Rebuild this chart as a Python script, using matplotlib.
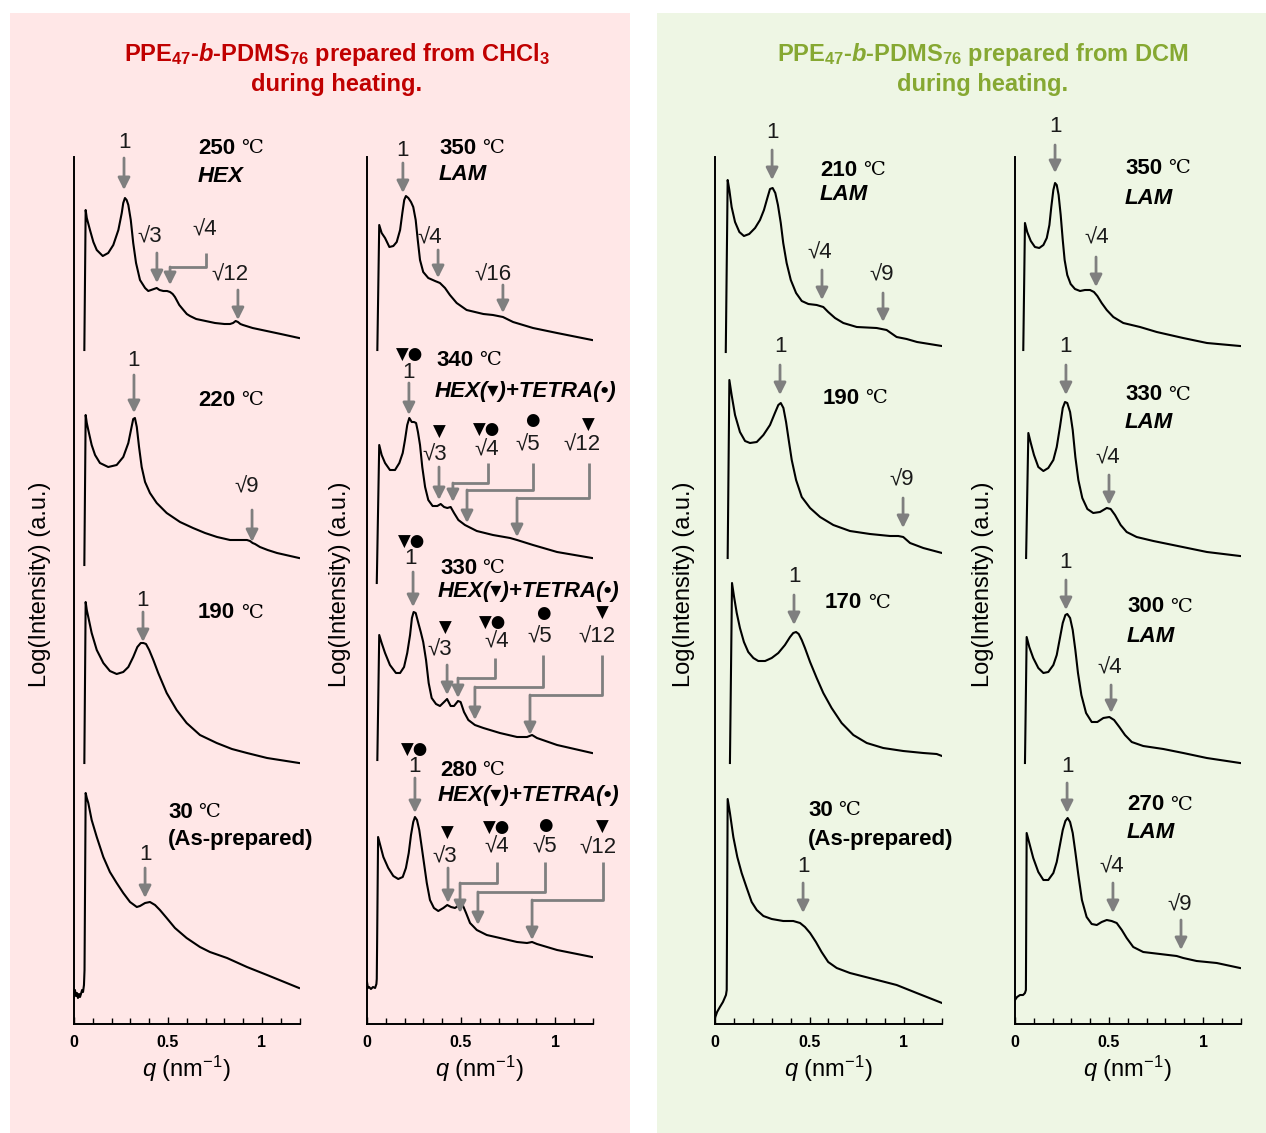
import matplotlib
matplotlib.use("Agg")
import matplotlib.pyplot as plt
from matplotlib.patches import Rectangle
from matplotlib.ticker import MultipleLocator

# ---------------- data (q in nm^-1, log-intensity in arbitrary units, offset stacked) -------------
# CHCl3, left column
q_c1_250 = [0.055, 0.062, 0.068, 0.085, 0.103, 0.121, 0.153, 0.182, 0.209, 0.236, 0.254, 0.262, 0.271,
            0.280, 0.289, 0.302, 0.315, 0.330, 0.351, 0.378, 0.395, 0.410, 0.425, 0.440, 0.455, 0.475,
            0.495, 0.511, 0.525, 0.537, 0.560, 0.582, 0.600, 0.617, 0.650, 0.700, 0.750, 0.800, 0.830,
            0.846, 0.860, 0.872, 0.885, 0.899, 0.950, 1.000, 1.100, 1.197]
i_c1_250 = [674, 814, 806, 794, 782, 774, 768, 771, 779, 794, 811, 821, 826,
            824, 819, 804, 781, 761, 744, 736, 733, 734, 735, 736, 734, 733,
            733, 732, 730, 727, 719, 714, 710, 708, 705, 703, 701, 700, 700,
            701, 703, 702, 700, 699, 696, 694, 690, 686]
q_c1_220 = [0.055, 0.062, 0.068, 0.076, 0.094, 0.112, 0.138, 0.182, 0.227, 0.262, 0.289, 0.303, 0.315,
            0.324, 0.334, 0.346, 0.360, 0.378, 0.404, 0.440, 0.493, 0.564, 0.633, 0.697, 0.761, 0.830,
            0.883, 0.920, 0.936, 0.950, 0.963, 0.989, 1.030, 1.080, 1.197]
i_c1_220 = [459, 609, 601, 594, 579, 569, 561, 557, 559, 567, 581, 594, 605,
            606, 597, 577, 557, 542, 531, 521, 511, 502, 496, 491, 487, 484,
            484, 484, 483, 481, 480, 477, 474, 471, 466]
q_c1_190 = [0.055, 0.062, 0.068, 0.076, 0.094, 0.121, 0.156, 0.191, 0.227, 0.262, 0.289, 0.315, 0.337,
            0.355, 0.369, 0.383, 0.400, 0.422, 0.448, 0.493, 0.546, 0.599, 0.670, 0.759, 0.840, 0.920,
            1.027, 1.197]
i_c1_190 = [261, 422, 414, 407, 391, 374, 361, 353, 350, 352, 357, 367, 377,
            381, 381, 380, 374, 364, 351, 331, 314, 301, 289, 281, 275, 271,
            266, 261]
q_c1_030 = [0.000, 0.005, 0.011, 0.016, 0.021, 0.027, 0.032, 0.037, 0.043, 0.048, 0.053, 0.056, 0.062,
            0.068, 0.076, 0.094, 0.121, 0.156, 0.191, 0.227, 0.262, 0.298, 0.334, 0.351, 0.378, 0.404,
            0.431, 0.457, 0.493, 0.537, 0.599, 0.670, 0.723, 0.814, 0.920, 1.027, 1.197]
i_c1_030 = [27, 34, 28, 31, 26, 30, 27, 30, 34, 32, 39, 54, 231,
            226, 221, 204, 187, 167, 152, 141, 131, 122, 117, 118, 121, 122,
            119, 114, 106, 96, 86, 77, 72, 66, 57, 49, 36]

# CHCl3, right column
q_c2_350 = [0.055, 0.065, 0.078, 0.096, 0.119, 0.140, 0.158, 0.176, 0.188, 0.198, 0.207, 0.220, 0.234,
            0.246, 0.259, 0.270, 0.282, 0.299, 0.326, 0.362, 0.388, 0.415, 0.441, 0.477, 0.530, 0.619,
            0.670, 0.723, 0.777, 0.883, 1.011, 1.197]
i_c2_350 = [674, 799, 791, 786, 777, 778, 782, 794, 811, 824, 828, 826, 822,
            817, 804, 784, 764, 752, 746, 743, 741, 736, 729, 721, 714, 710,
            709, 707, 702, 696, 691, 684]
q_c2_340 = [0.052, 0.065, 0.078, 0.096, 0.122, 0.149, 0.172, 0.190, 0.202, 0.214, 0.225, 0.238, 0.250,
            0.261, 0.271, 0.282, 0.294, 0.309, 0.326, 0.349, 0.374, 0.392, 0.410, 0.427, 0.445, 0.463,
            0.486, 0.521, 0.584, 0.670, 0.761, 0.798, 0.883, 1.011, 1.197]
i_c2_340 = [441, 579, 569, 561, 554, 554, 561, 571, 584, 599, 606, 602, 602,
            601, 592, 579, 557, 537, 524, 518, 518, 520, 517, 516, 517, 511,
            504, 499, 493, 489, 486, 484, 479, 472, 466]
q_c2_330 = [0.055, 0.065, 0.078, 0.096, 0.122, 0.154, 0.176, 0.197, 0.214, 0.229, 0.239, 0.248, 0.259,
            0.273, 0.286, 0.299, 0.314, 0.328, 0.344, 0.367, 0.388, 0.410, 0.426, 0.445, 0.463, 0.484,
            0.498, 0.516, 0.539, 0.574, 0.619, 0.707, 0.798, 0.851, 0.878, 0.904, 1.011, 1.197]
i_c2_330 = [264, 389, 381, 371, 359, 351, 351, 357, 371, 389, 406, 412, 411,
            401, 392, 382, 364, 341, 326, 320, 318, 322, 325, 318, 318, 323,
            322, 312, 304, 299, 296, 291, 287, 287, 289, 286, 279, 271]
q_c2_280 = [0.000, 0.005, 0.011, 0.021, 0.032, 0.043, 0.050, 0.052, 0.059, 0.073, 0.087, 0.113, 0.140,
            0.166, 0.190, 0.207, 0.222, 0.234, 0.246, 0.255, 0.266, 0.278, 0.291, 0.303, 0.318, 0.335,
            0.356, 0.379, 0.406, 0.427, 0.447, 0.468, 0.491, 0.509, 0.527, 0.548, 0.584, 0.637, 0.707,
            0.798, 0.851, 0.878, 0.904, 1.011, 1.197]
i_c2_280 = [42, 36, 37, 35, 37, 36, 40, 45, 187, 177, 167, 156, 148,
            145, 147, 156, 171, 189, 202, 207, 204, 194, 177, 161, 141, 124,
            116, 113, 116, 119, 117, 116, 119, 119, 111, 101, 94, 89, 86,
            82, 81, 82, 80, 74, 67]

# DCM, left column
q_d1_210 = [0.057, 0.067, 0.076, 0.088, 0.106, 0.129, 0.153, 0.181, 0.212, 0.238, 0.259, 0.277, 0.291,
            0.305, 0.319, 0.333, 0.348, 0.361, 0.379, 0.401, 0.429, 0.459, 0.494, 0.538, 0.573, 0.599,
            0.635, 0.679, 0.750, 0.855, 0.908, 0.961, 1.014, 1.069, 1.200]
i_d1_210 = [672, 844, 834, 817, 802, 792, 788, 790, 796, 804, 814, 826, 835,
            836, 831, 819, 801, 781, 761, 744, 731, 723, 720, 719, 717, 712,
            706, 701, 697, 696, 694, 687, 685, 682, 678]
q_d1_190 = [0.067, 0.076, 0.088, 0.106, 0.132, 0.159, 0.185, 0.221, 0.256, 0.291, 0.317, 0.335, 0.348,
            0.362, 0.376, 0.390, 0.406, 0.429, 0.459, 0.503, 0.556, 0.626, 0.714, 0.820, 0.926, 0.970,
            0.996, 1.032, 1.102, 1.201]
i_d1_190 = [466, 644, 629, 609, 592, 583, 581, 582, 589, 599, 611, 619, 621,
            616, 602, 584, 564, 544, 527, 516, 507, 499, 493, 490, 488, 488,
            487, 481, 476, 471]
q_d1_170 = [0.079, 0.090, 0.101, 0.115, 0.132, 0.153, 0.176, 0.203, 0.229, 0.265, 0.300, 0.335, 0.370,
            0.397, 0.414, 0.429, 0.443, 0.459, 0.476, 0.503, 0.538, 0.573, 0.617, 0.670, 0.732, 0.803,
            0.890, 0.996, 1.102, 1.173, 1.201]
i_d1_170 = [261, 441, 427, 411, 396, 382, 372, 366, 363, 363, 366, 371, 379,
            387, 391, 392, 390, 384, 376, 362, 346, 331, 316, 301, 289, 281,
            276, 273, 271, 270, 268]
q_d1_030 = [0.000, 0.011, 0.026, 0.042, 0.058, 0.062, 0.067, 0.079, 0.097, 0.118, 0.141, 0.168, 0.194,
            0.221, 0.256, 0.300, 0.361, 0.414, 0.450, 0.476, 0.503, 0.534, 0.564, 0.599, 0.644, 0.714,
            0.838, 0.961, 1.067, 1.201]
i_d1_030 = [6, 12, 17, 22, 29, 34, 225, 211, 187, 167, 151, 136, 122,
            114, 108, 105, 103, 103, 101, 97, 91, 82, 72, 62, 56, 51,
            45, 39, 31, 21]

# DCM, right column
q_d2_350 = [0.044, 0.053, 0.065, 0.084, 0.106, 0.129, 0.151, 0.169, 0.183, 0.193, 0.204, 0.213, 0.222,
            0.232, 0.243, 0.254, 0.264, 0.278, 0.296, 0.319, 0.346, 0.372, 0.399, 0.420, 0.438, 0.461,
            0.488, 0.523, 0.576, 0.665, 0.754, 0.894, 1.021, 1.197]
i_d2_350 = [674, 801, 792, 783, 777, 776, 779, 786, 799, 817, 834, 841, 839,
            829, 809, 784, 764, 749, 740, 735, 733, 734, 734, 732, 728, 721,
            714, 707, 701, 697, 692, 686, 681, 678]
q_d2_330 = [0.059, 0.071, 0.084, 0.101, 0.124, 0.151, 0.177, 0.204, 0.222, 0.239, 0.254, 0.266, 0.278,
            0.293, 0.307, 0.321, 0.337, 0.358, 0.385, 0.416, 0.452, 0.488, 0.509, 0.532, 0.562, 0.594,
            0.647, 0.736, 0.840, 1.021, 1.197]
i_d2_330 = [466, 591, 581, 569, 557, 553, 556, 564, 577, 597, 616, 622, 621,
            612, 594, 567, 544, 526, 515, 511, 512, 516, 515, 509, 499, 492,
            487, 483, 479, 472, 468]
q_d2_300 = [0.053, 0.062, 0.076, 0.097, 0.124, 0.151, 0.177, 0.204, 0.222, 0.239, 0.254, 0.268, 0.278,
            0.293, 0.307, 0.321, 0.335, 0.353, 0.378, 0.408, 0.438, 0.470, 0.502, 0.527, 0.555, 0.585,
            0.621, 0.682, 0.789, 0.895, 1.020, 1.197]
i_d2_300 = [261, 387, 377, 366, 356, 351, 352, 359, 369, 386, 401, 409, 410,
            406, 394, 374, 351, 329, 311, 302, 302, 306, 307, 304, 297, 289,
            282, 278, 275, 271, 266, 261]
q_d2_270 = [0.000, 0.011, 0.027, 0.043, 0.053, 0.058, 0.062, 0.076, 0.097, 0.124, 0.151, 0.177, 0.204,
            0.222, 0.239, 0.254, 0.268, 0.280, 0.293, 0.307, 0.321, 0.337, 0.356, 0.381, 0.408, 0.435,
            0.461, 0.488, 0.514, 0.541, 0.568, 0.594, 0.629, 0.682, 0.771, 0.860, 0.895, 0.966, 1.073,
            1.197]
i_d2_270 = [24, 27, 29, 29, 31, 34, 191, 181, 166, 152, 144, 144, 151,
            162, 179, 194, 203, 206, 202, 191, 172, 149, 124, 107, 100, 99,
            102, 104, 103, 101, 94, 86, 77, 72, 70, 68, 66, 63, 61,
            56]

x_ticks = [0, 0.5, 1]
x_tick_labels = ["0", "0.5", "1"]

# ---------------- figure ----------------
plt.rcParams['font.family'] = ['Liberation Sans', 'DejaVu Sans']
plt.rcParams['mathtext.fontset'] = 'custom'
plt.rcParams['mathtext.rm'] = 'Liberation Sans'
plt.rcParams['mathtext.it'] = 'Liberation Sans:italic'
plt.rcParams['mathtext.bf'] = 'Liberation Sans:bold'
plt.rcParams['mathtext.bfit'] = 'Liberation Sans:italic:bold'

W, H = 1266, 1133
fig = plt.figure(figsize=(W / 100, H / 100), dpi=100)
fig.patch.set_facecolor('white')

PINK = '#FFE7E7'
GREEN = '#EEF6E4'
GRAY = '#7F7F7F'
TXT = '#1A1A1A'

fig.patches.append(Rectangle((10 / W, 0), 620 / W, (H - 13) / H, transform=fig.transFigure,
                             facecolor=PINK, edgecolor='none', zorder=-10))
fig.patches.append(Rectangle((657 / W, 0), (W - 657) / W, (H - 13) / H, transform=fig.transFigure,
                             facecolor=GREEN, edgecolor='none', zorder=-10))

AX_BOTTOM, AX_TOP = 1024, 157


def make_axes(x0, s):
    ax = fig.add_axes([x0 / W, (H - AX_BOTTOM) / H, 1.2 * s / W, (AX_BOTTOM - AX_TOP) / H])
    ax.set_zorder(5)
    ax.set_xlim(0, 1.2)
    ax.set_ylim(0, AX_BOTTOM - AX_TOP)
    ax.patch.set_alpha(0)
    for sp in ['top', 'right']:
        ax.spines[sp].set_visible(False)
    for sp in ['left', 'bottom']:
        ax.spines[sp].set_linewidth(1.4)
    ax.set_yticks([])
    ax.set_xticks(x_ticks)
    ax.set_xticklabels(x_tick_labels, fontweight='bold')
    ax.xaxis.set_minor_locator(MultipleLocator(0.1))
    ax.tick_params(axis='x', which='major', direction='in', length=5, width=1.0, pad=8, labelsize=11.5)
    ax.tick_params(axis='x', which='minor', direction='in', length=4, width=1.0)
    ax.set_xlabel(r"$\mathit{q}$ (nm$^{-1}$)", fontsize=17, labelpad=3)
    return ax


ax1 = make_axes(74, 188)
ax2 = make_axes(367, 188)
ax3 = make_axes(715, 189)
ax4 = make_axes(1015, 188)

for ax, curves in [(ax1, [(q_c1_250, i_c1_250), (q_c1_220, i_c1_220), (q_c1_190, i_c1_190), (q_c1_030, i_c1_030)]),
                   (ax2, [(q_c2_350, i_c2_350), (q_c2_340, i_c2_340), (q_c2_330, i_c2_330), (q_c2_280, i_c2_280)]),
                   (ax3, [(q_d1_210, i_d1_210), (q_d1_190, i_d1_190), (q_d1_170, i_d1_170), (q_d1_030, i_d1_030)]),
                   (ax4, [(q_d2_350, i_d2_350), (q_d2_330, i_d2_330), (q_d2_300, i_d2_300), (q_d2_270, i_d2_270)])]:
    for q, i in curves:
        ax.plot(q, i, color='black', lw=1.5, solid_joinstyle='round')

# y labels
for xc in [40, 340, 684, 983]:
    fig.text(xc / W, 1 - 584 / H, "Log(Intensity) (a.u.)", rotation=90, ha='center', va='center',
             fontsize=17)

# titles
fig.text(337 / W, 1 - 55 / H,
         r"PPE$_{\mathbf{47}}$-$\mathbfit{b}$-PDMS$_{\mathbf{76}}$ prepared from CHCl$_{\mathbf{3}}$",
         ha='center', va='center', fontsize=17, fontweight='bold', color='#C00000')
fig.text(337 / W, 1 - 84 / H, "during heating.", ha='center', va='center', fontsize=17,
         fontweight='bold', color='#C00000')
fig.text(983 / W, 1 - 55 / H,
         r"PPE$_{\mathbf{47}}$-$\mathbfit{b}$-PDMS$_{\mathbf{76}}$ prepared from DCM",
         ha='center', va='center', fontsize=17, fontweight='bold', color='#86A832')
fig.text(983 / W, 1 - 84 / H, "during heating.", ha='center', va='center', fontsize=17,
         fontweight='bold', color='#86A832')


# ---------------- annotation helpers ----------------
def lbl(ax, x, y, s, size=16):
    ax.text(x, y, s, ha='center', va='center', fontsize=size, color=TXT, clip_on=False)


def sym(ax, x, y, s):
    ax.text(x, y, s, ha='center', va='center', fontsize=12, color='black', clip_on=False,
            family=['DejaVu Sans'])


def arr(ax, x, y0, y1):
    ax.annotate("", xy=(x, y1), xytext=(x, y0),
                arrowprops=dict(arrowstyle='-|>', color=GRAY, lw=2.0, mutation_scale=18,
                                shrinkA=0, shrinkB=0), annotation_clip=False)


def brk(ax, xt, yt, ym, xa, ye):
    ax.plot([xt, xt, xa], [yt, ym, ym], color=GRAY, lw=2.0, clip_on=False, solid_capstyle='butt')
    arr(ax, xa, ym, ye)


def temp(ax, x, y, num):
    t = ax.text(x, y, num, fontsize=16, fontweight='bold', ha='left', va='center', color='black')
    ax.annotate("\u2103", xy=(1, 0.5), xycoords=t, xytext=(4, 0), textcoords='offset points',
                ha='left', va='center', fontsize=14, family=['DejaVu Serif', 'Noto Sans CJK SC'])


def phase(ax, x, y, s, italic=True):
    ax.text(x, y, s, fontsize=16, fontweight='bold', fontstyle='italic' if italic else 'normal',
            ha='left', va='center', color='black')


HT = "HEX(\u25BE)+TETRA(\u2022)"

# Panel 1
temp(ax1, 0.660, 876, "250"); phase(ax1, 0.660, 847, "HEX")
lbl(ax1, 0.271, 882, "1"); arr(ax1, 0.266, 866, 834)
lbl(ax1, 0.404, 787, "√3"); arr(ax1, 0.441, 771, 741)
lbl(ax1, 0.697, 794, "√4"); brk(ax1, 0.702, 771, 757, 0.511, 739)
lbl(ax1, 0.830, 749, "√12"); arr(ax1, 0.872, 734, 704)
temp(ax1, 0.660, 624, "220")
lbl(ax1, 0.319, 664, "1"); arr(ax1, 0.319, 649, 611)
lbl(ax1, 0.920, 537, "√9"); arr(ax1, 0.947, 514, 482)
temp(ax1, 0.660, 411, "190")
lbl(ax1, 0.362, 424, "1"); arr(ax1, 0.367, 412, 382)
temp(ax1, 0.500, 212, "30"); phase(ax1, 0.500, 184, "(As-prepared)", italic=False)
lbl(ax1, 0.378, 169, "1"); arr(ax1, 0.378, 156, 126)

# Panel 2
temp(ax2, 0.383, 876, "350"); phase(ax2, 0.383, 849, "LAM")
lbl(ax2, 0.191, 874, "1"); arr(ax2, 0.191, 861, 831)
lbl(ax2, 0.335, 786, "√4"); arr(ax2, 0.378, 774, 746)
lbl(ax2, 0.670, 749, "√16"); arr(ax2, 0.723, 739, 711)

sym(ax2, 0.229, 669, "▼●"); lbl(ax2, 0.223, 652, "1"); arr(ax2, 0.223, 641, 609)
temp(ax2, 0.372, 664, "340"); phase(ax2, 0.362, 633, HT)
sym(ax2, 0.383, 592, "▼"); lbl(ax2, 0.362, 569, "√3"); arr(ax2, 0.383, 557, 524)
sym(ax2, 0.638, 594, "▼●"); lbl(ax2, 0.638, 574, "√4"); brk(ax2, 0.644, 561, 541, 0.457, 522)
sym(ax2, 0.878, 604, "●"); lbl(ax2, 0.856, 579, "√5"); brk(ax2, 0.883, 561, 534, 0.532, 501)
sym(ax2, 1.176, 599, "▼"); lbl(ax2, 1.144, 579, "√12"); brk(ax2, 1.181, 561, 526, 0.798, 487)

sym(ax2, 0.239, 482, "▼●"); lbl(ax2, 0.229, 465, "1"); arr(ax2, 0.245, 452, 417)
temp(ax2, 0.388, 456, "330"); phase(ax2, 0.378, 433, HT)
sym(ax2, 0.415, 396, "▼"); lbl(ax2, 0.388, 374, "√3"); arr(ax2, 0.426, 359, 329)
sym(ax2, 0.670, 401, "▼●"); lbl(ax2, 0.691, 382, "√4"); brk(ax2, 0.681, 366, 346, 0.484, 326)
sym(ax2, 0.936, 411, "●"); lbl(ax2, 0.920, 387, "√5"); brk(ax2, 0.936, 369, 337, 0.574, 304)
sym(ax2, 1.250, 411, "▼"); lbl(ax2, 1.223, 387, "√12"); brk(ax2, 1.250, 369, 329, 0.867, 289)

sym(ax2, 0.255, 274, "▼●"); lbl(ax2, 0.255, 257, "1"); arr(ax2, 0.255, 246, 211)
temp(ax2, 0.388, 254, "280"); phase(ax2, 0.378, 229, HT)
sym(ax2, 0.426, 191, "▼"); lbl(ax2, 0.415, 167, "√3"); arr(ax2, 0.431, 156, 121)
sym(ax2, 0.691, 196, "▼●"); lbl(ax2, 0.691, 177, "√4"); brk(ax2, 0.691, 162, 141, 0.495, 111)
sym(ax2, 0.947, 199, "●"); lbl(ax2, 0.947, 177, "√5"); brk(ax2, 0.947, 162, 132, 0.590, 99)
sym(ax2, 1.250, 197, "▼"); lbl(ax2, 1.229, 176, "√12"); brk(ax2, 1.255, 162, 124, 0.878, 84)

# Panel 3
temp(ax3, 0.556, 854, "210"); phase(ax3, 0.556, 829, "LAM")
lbl(ax3, 0.302, 891, "1"); arr(ax3, 0.302, 874, 844)
lbl(ax3, 0.556, 771, "√4"); arr(ax3, 0.566, 754, 724)
lbl(ax3, 0.884, 749, "√9"); arr(ax3, 0.889, 731, 702)
temp(ax3, 0.571, 626, "190")
lbl(ax3, 0.344, 677, "1"); arr(ax3, 0.344, 659, 629)
lbl(ax3, 0.989, 544, "√9"); arr(ax3, 0.995, 526, 496)
temp(ax3, 0.582, 421, "170")
lbl(ax3, 0.418, 447, "1"); arr(ax3, 0.418, 429, 399)
temp(ax3, 0.492, 214, "30"); phase(ax3, 0.492, 184, "(As-prepared)", italic=False)
lbl(ax3, 0.466, 157, "1"); arr(ax3, 0.466, 141, 111)

# Panel 4
temp(ax4, 0.585, 856, "350"); phase(ax4, 0.585, 826, "LAM")
lbl(ax4, 0.213, 897, "1"); arr(ax4, 0.213, 879, 851)
lbl(ax4, 0.436, 786, "√4"); arr(ax4, 0.431, 767, 737)
temp(ax4, 0.585, 629, "330"); phase(ax4, 0.585, 601, "LAM")
lbl(ax4, 0.271, 677, "1"); arr(ax4, 0.271, 659, 629)
lbl(ax4, 0.495, 566, "√4"); arr(ax4, 0.500, 549, 519)
temp(ax4, 0.596, 417, "300"); phase(ax4, 0.596, 387, "LAM")
lbl(ax4, 0.271, 462, "1"); arr(ax4, 0.271, 444, 414)
lbl(ax4, 0.505, 356, "√4"); arr(ax4, 0.511, 339, 311)
temp(ax4, 0.596, 219, "270"); phase(ax4, 0.596, 191, "LAM")
lbl(ax4, 0.277, 257, "1"); arr(ax4, 0.277, 241, 211)
lbl(ax4, 0.516, 157, "√4"); arr(ax4, 0.521, 141, 111)
lbl(ax4, 0.878, 119, "√9"); arr(ax4, 0.883, 104, 74)

fig.savefig("out.png", dpi=100)
